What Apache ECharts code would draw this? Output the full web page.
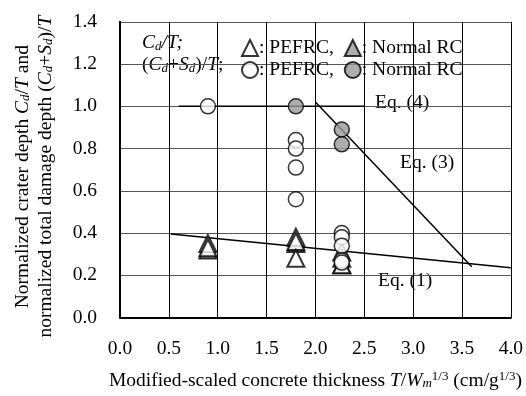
<!DOCTYPE html>
<html>
<head>
<meta charset="utf-8">
<script src="https://cdn.jsdelivr.net/npm/echarts@6/dist/echarts.min.js"></script>
<style>
  html, body { margin: 0; padding: 0; background: #fff; }
  #chart { width: 526px; height: 396px; }
</style>
</head>
<body>
<div id="chart"></div>
<script>
// data
var triPefrc = [[0.9, 0.35], [0.9, 0.33], [1.8, 0.38], [1.8, 0.36], [1.8, 0.28], [2.27, 0.31], [2.27, 0.28], [2.27, 0.25]];
var triNormal = [[0.9, 0.32], [1.8, 0.35], [2.27, 0.25]];
var circPefrc = [[0.9, 1.0], [1.8, 0.84], [1.8, 0.80], [1.8, 0.71], [1.8, 0.56], [2.27, 0.40], [2.27, 0.38], [2.27, 0.34], [2.27, 0.27], [2.27, 0.26]];
var circNormal = [[1.8, 1.0], [2.27, 0.89], [2.27, 0.82]];
var eq1 = [[0.52, 0.395], [4.0, 0.235]];
var eq3 = [[2.0, 1.02], [3.6, 0.24]];
var eq4 = [[0.6, 1.0], [2.5, 1.0]];

var FONT = '"Liberation Serif", "Times New Roman", serif';
var FS = 19.5;

var chart = echarts.init(document.getElementById('chart'));

function richSet(lh) {
  return {
    i: { fontFamily: FONT, fontSize: FS, fontStyle: 'italic', color: '#000', lineHeight: lh },
    s: { fontFamily: FONT, fontSize: 13, fontStyle: 'italic', color: '#000', lineHeight: 13, padding: [7, 0, 0, 0] },
    n: { fontFamily: FONT, fontSize: FS, color: '#000', lineHeight: lh },
    sup: { fontFamily: FONT, fontSize: 13, color: '#000', lineHeight: 13, padding: [0, 0, 8, 0] }
  };
}

var names = {
  triP: ': PEFRC,',
  triN: ': Normal RC',
  cirP: ': PEFRC,',
  cirN: ': Normal RC'
};

function lineSeries(name, data) {
  return {
    name: name,
    type: 'line',
    data: data,
    symbol: 'none',
    silent: true,
    lineStyle: { color: '#000', width: 1.5 },
    z: 1
  };
}

function legendRow(top, data) {
  return {
    left: 236, top: top,
    itemWidth: 16, itemHeight: 16, itemGap: 10,
    data: data,
    formatter: function (n) { return names[n]; },
    textStyle: { fontFamily: FONT, fontSize: FS, color: '#000', padding: [0, 0, 0, -4] }
  };
}

var option = {
  backgroundColor: '#fff',
  animation: false,
  grid: { left: 120, right: 11, top: 17, bottom: 76 },
  xAxis: {
    type: 'value',
    min: 0, max: 4, interval: 0.5,
    axisLine: { show: true, lineStyle: { color: '#000', width: 2 } },
    axisTick: { show: false },
    splitLine: { show: true, lineStyle: { color: '#000', width: 1 } },
    axisLabel: {
      margin: 21, fontFamily: FONT, fontSize: FS, color: '#000',
      formatter: function (v) { return v.toFixed(1); }
    },
    name: '{n|Modified-scaled concrete thickness }{i|T}{n|/}{i|W}{s|m}{sup|1/3}{n| (cm/g}{sup|1/3}{n|)}',
    nameLocation: 'middle',
    nameGap: 53,
    nameMoveOverlap: false,
    nameTextStyle: { rich: richSet(20) }
  },
  yAxis: {
    type: 'value',
    min: 0, max: 1.4, interval: 0.2,
    axisLine: { show: true, lineStyle: { color: '#000', width: 2 } },
    axisTick: { show: false },
    splitLine: { show: true, lineStyle: { color: '#555', width: 1 } },
    axisLabel: {
      margin: 23, fontFamily: FONT, fontSize: FS, color: '#000',
      formatter: function (v) { return v.toFixed(1); }
    },
    name: '{n|Normalized crater depth }{i|C}{s|d}{n|/}{i|T}{n| and}\n{n|normalized total damage depth (}{i|C}{s|d}{n|+}{i|S}{s|d}{n|)/}{i|T}',
    nameLocation: 'middle',
    nameRotate: 90,
    nameGap: 63,
    nameMoveOverlap: false,
    nameTextStyle: { rich: richSet(23), lineHeight: 23, align: 'center', padding: [0, 14, 0, 0] }
  },
  legend: [legendRow(33, ['triP', 'triN']), legendRow(55, ['cirP', 'cirN'])],
  graphic: [
    { type: 'text', left: 142, top: 33, style: { text: '{i|C}{s|d}{i|/T;}', rich: richSet(20) } },
    { type: 'text', left: 142, top: 55, style: { text: '{n|(}{i|C}{s|d}{n|+}{i|S}{s|d}{n|)/}{i|T}{n|;}', rich: richSet(20) } },
    { type: 'text', left: 375, top: 93, style: { text: 'Eq. (4)', font: FS + 'px ' + FONT, fill: '#000' } },
    { type: 'text', left: 400, top: 153, style: { text: 'Eq. (3)', font: FS + 'px ' + FONT, fill: '#000' } },
    { type: 'text', left: 378, top: 271, style: { text: 'Eq. (1)', font: FS + 'px ' + FONT, fill: '#000' } }
  ],
  series: [
    lineSeries('eq1', eq1),
    lineSeries('eq3', eq3),
    lineSeries('eq4', eq4),
    {
      name: 'triN', type: 'scatter', data: triNormal, symbol: 'triangle', symbolSize: 17,
      itemStyle: { color: '#999', borderColor: '#000', borderWidth: 2 }, z: 3
    },
    {
      name: 'triP', type: 'scatter', data: triPefrc, symbol: 'triangle', symbolSize: 17,
      itemStyle: { color: '#fff', borderColor: '#000', borderWidth: 2 }, z: 4
    },
    {
      name: 'cirP', type: 'scatter', data: circPefrc, symbol: 'circle', symbolSize: 15,
      itemStyle: { color: '#fff', borderColor: '#000', borderWidth: 1.5 }, z: 5
    },
    {
      name: 'cirN', type: 'scatter', data: circNormal, symbol: 'circle', symbolSize: 15,
      itemStyle: { color: '#999', borderColor: '#000', borderWidth: 1.5 }, z: 6
    }
  ]
};

chart.setOption(option);
</script>
</body>
</html>
